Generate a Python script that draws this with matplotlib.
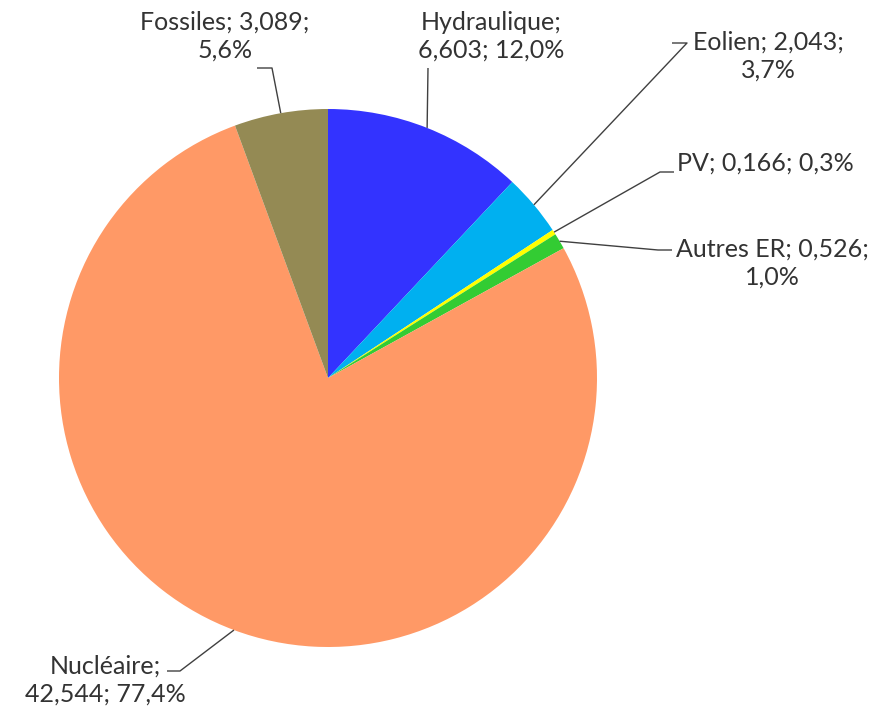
import numpy as np
import matplotlib
matplotlib.use("Agg")
import matplotlib.pyplot as plt

# données (TWh)
categories = ["Hydraulique", "Eolien", "PV", "Autres ER", "Nucléaire", "Fossiles"]
values = [6.603, 2.043, 0.166, 0.526, 42.544, 3.089]
colors = ["#3333FF", "#00B0F0", "#FFFF00", "#33CC33", "#FF9966", "#948A54"]

W, H = 885, 713
fig = plt.figure(figsize=(W / 100, H / 100), dpi=100)
ax = fig.add_axes([0, 0, 1, 1])

cx, cy, r = 328, H - 378, 269
wedges, _ = ax.pie(values, colors=colors, startangle=90, counterclock=False,
                   center=(cx, cy), radius=r, frame=True,
                   wedgeprops=dict(linewidth=0))
ax.set_xlim(0, W)
ax.set_ylim(0, H)
ax.axis("off")

total = sum(values)

def fmt(v):
    return f"{v:.3f}".replace(".", ",")

def pct(v):
    return f"{100 * v / total:.1f}%".replace(".", ",")

# label layout: text centre (px, from top), line break, leader path (px, from top)
layout = {
    "Hydraulique": ((491, 36), 1, [(428, 68)]),
    "Eolien": ((768, 56), 2, [(687, 43), (672, 43)]),
    "PV": ((765, 163), None, [(660, 172), (674, 172)]),
    "Autres ER": ((772, 263), 2, [(658, 250), (672, 250)]),
    "Nucléaire": ((105, 680), 1, [(180, 671), (167, 671)]),
    "Fossiles": ((225, 36), 2, [(272, 68), (257, 68)]),
}

for w, cat, v in zip(wedges, categories, values):
    (tx, ty), brk, path = layout[cat]
    parts = [cat, fmt(v), pct(v)]
    if brk is None:
        txt = "; ".join(parts)
    else:
        txt = "; ".join(parts[:brk]) + ";\n" + "; ".join(parts[brk:])
    ang = np.deg2rad((w.theta1 + w.theta2) / 2)
    ex, ey = cx + r * np.cos(ang), cy + r * np.sin(ang)
    xs = [ex] + [p[0] for p in path]
    ys = [ey] + [H - p[1] for p in path]
    ax.plot(xs, ys, color="#404040", lw=1.0, solid_capstyle="butt")
    ax.text(tx, H - ty, txt, ha="center", va="center", fontsize=18,
            family="Lato", color="#333333", linespacing=1.22)

fig.savefig("out.png", dpi=100)
